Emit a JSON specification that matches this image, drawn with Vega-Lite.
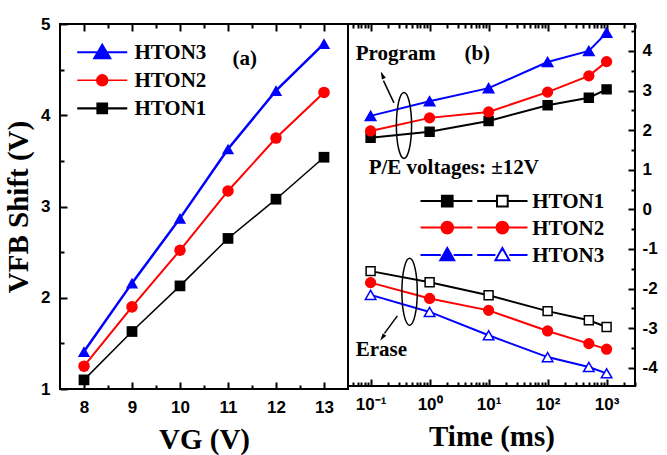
{
  "$schema": "https://vega.github.io/schema/vega-lite/v6.json",
  "padding": {"left": 3, "top": 14, "right": 0, "bottom": 0},
  "background": "white",
  "bounds": "flush",
  "spacing": 0,
  "config": {
    "view": {"stroke": "black", "strokeWidth": 2, "fill": "transparent"},
    "axis": {"domain": false, "grid": false, "ticks": true, "tickOpacity": 1, "zindex": 1, "labelFont": "Liberation Sans", "labelFontWeight": "bold", "labelFontSize": 17, "labelColor": "black", "tickColor": "#000000", "tickWidth": 2, "titleFont": "Liberation Serif", "titleFontWeight": "bold", "titleFontSize": 29, "titleColor": "black", "labelOverlap": false, "labelBound": false, "labelFlush": false},
    "text": {"font": "Liberation Serif", "fontWeight": "bold", "fontSize": 21}
  },
  "datasets": {
    "one": [{}],
    "left": [
      {"sample": "HTON3", "vg": 8, "shift": 1.41}, {"sample": "HTON3", "vg": 9, "shift": 2.16}, {"sample": "HTON3", "vg": 10, "shift": 2.87}, {"sample": "HTON3", "vg": 11, "shift": 3.63}, {"sample": "HTON3", "vg": 12, "shift": 4.27}, {"sample": "HTON3", "vg": 13, "shift": 4.785},
      {"sample": "HTON2", "vg": 8, "shift": 1.25}, {"sample": "HTON2", "vg": 9, "shift": 1.90}, {"sample": "HTON2", "vg": 10, "shift": 2.52}, {"sample": "HTON2", "vg": 11, "shift": 3.17}, {"sample": "HTON2", "vg": 12, "shift": 3.75}, {"sample": "HTON2", "vg": 13, "shift": 4.25},
      {"sample": "HTON1", "vg": 8, "shift": 1.10}, {"sample": "HTON1", "vg": 9, "shift": 1.63}, {"sample": "HTON1", "vg": 10, "shift": 2.13}, {"sample": "HTON1", "vg": 11, "shift": 2.65}, {"sample": "HTON1", "vg": 12, "shift": 3.08}, {"sample": "HTON1", "vg": 13, "shift": 3.54}
    ],
    "right": [
      {"sample": "HTON1", "phase": "Program", "t": 0.1, "v": 1.81}, {"sample": "HTON1", "phase": "Program", "t": 1, "v": 1.96}, {"sample": "HTON1", "phase": "Program", "t": 10, "v": 2.23}, {"sample": "HTON1", "phase": "Program", "t": 100, "v": 2.63}, {"sample": "HTON1", "phase": "Program", "t": 500, "v": 2.82}, {"sample": "HTON1", "phase": "Program", "t": 1000, "v": 3.03},
      {"sample": "HTON2", "phase": "Program", "t": 0.1, "v": 1.98}, {"sample": "HTON2", "phase": "Program", "t": 1, "v": 2.31}, {"sample": "HTON2", "phase": "Program", "t": 10, "v": 2.46}, {"sample": "HTON2", "phase": "Program", "t": 100, "v": 2.96}, {"sample": "HTON2", "phase": "Program", "t": 500, "v": 3.37}, {"sample": "HTON2", "phase": "Program", "t": 1000, "v": 3.73},
      {"sample": "HTON3", "phase": "Program", "t": 0.1, "v": 2.36}, {"sample": "HTON3", "phase": "Program", "t": 1, "v": 2.73}, {"sample": "HTON3", "phase": "Program", "t": 10, "v": 3.06}, {"sample": "HTON3", "phase": "Program", "t": 100, "v": 3.72}, {"sample": "HTON3", "phase": "Program", "t": 500, "v": 4.00}, {"sample": "HTON3", "phase": "Program", "t": 1000, "v": 4.46},
      {"sample": "HTON1", "phase": "Erase", "t": 0.1, "v": -1.56}, {"sample": "HTON1", "phase": "Erase", "t": 1, "v": -1.84}, {"sample": "HTON1", "phase": "Erase", "t": 10, "v": -2.17}, {"sample": "HTON1", "phase": "Erase", "t": 100, "v": -2.57}, {"sample": "HTON1", "phase": "Erase", "t": 500, "v": -2.80}, {"sample": "HTON1", "phase": "Erase", "t": 1000, "v": -2.97},
      {"sample": "HTON2", "phase": "Erase", "t": 0.1, "v": -1.85}, {"sample": "HTON2", "phase": "Erase", "t": 1, "v": -2.25}, {"sample": "HTON2", "phase": "Erase", "t": 10, "v": -2.55}, {"sample": "HTON2", "phase": "Erase", "t": 100, "v": -3.07}, {"sample": "HTON2", "phase": "Erase", "t": 500, "v": -3.39}, {"sample": "HTON2", "phase": "Erase", "t": 1000, "v": -3.53},
      {"sample": "HTON3", "phase": "Erase", "t": 0.1, "v": -2.16}, {"sample": "HTON3", "phase": "Erase", "t": 1, "v": -2.59}, {"sample": "HTON3", "phase": "Erase", "t": 10, "v": -3.18}, {"sample": "HTON3", "phase": "Erase", "t": 100, "v": -3.73}, {"sample": "HTON3", "phase": "Erase", "t": 500, "v": -3.98}, {"sample": "HTON3", "phase": "Erase", "t": 1000, "v": -4.14}
    ]
  },
  "resolve": {"scale": {"x": "independent", "y": "independent", "color": "independent", "shape": "independent", "size": "independent", "strokeWidth": "independent", "fill": "independent", "stroke": "independent"}},
  "hconcat": [
    {
      "width": 288, "height": 365,
      "resolve": {"axis": {"x": "independent", "y": "independent"}},
      "layer": [
        {
          "data": {"name": "left"},
          "mark": {"type": "line"},
          "encoding": {
            "x": {"field": "vg", "type": "quantitative", "scale": {"domain": [7.5, 13.5], "nice": false, "zero": false},
              "axis": {"orient": "bottom", "values": [8, 9, 10, 11, 12, 13], "labelExpr": "'' + datum.value", "offset": -7, "tickSize": 7, "labelPadding": 10, "title": "VG (V)", "titlePadding": 10}},
            "y": {"field": "shift", "type": "quantitative", "scale": {"domain": [1, 5], "nice": false, "zero": false},
              "axis": {"orient": "left", "values": [1, 2, 3, 4, 5], "labelExpr": "'' + datum.value", "offset": -7, "tickSize": 7, "labelPadding": 10, "title": "VFB Shift (V)", "titlePadding": 7}},
            "color": {"field": "sample", "type": "nominal", "scale": {"domain": ["HTON3", "HTON2", "HTON1"], "range": ["#0000ff", "#ff0000", "#000000"]}, "legend": null},
            "strokeWidth": {"field": "sample", "type": "nominal", "scale": {"domain": ["HTON3", "HTON2", "HTON1"], "range": [2.5, 1.5, 2.2]}, "legend": null}
          }
        },
        {
          "data": {"name": "left"},
          "mark": {"type": "point", "filled": true, "opacity": 1},
          "encoding": {
            "x": {"field": "vg", "type": "quantitative", "axis": {"orient": "top", "values": [8, 9, 10, 11, 12, 13], "labels": false, "offset": -7, "tickSize": 7, "title": null}},
            "y": {"field": "shift", "type": "quantitative", "axis": {"orient": "left", "values": [1.5, 2.5, 3.5, 4.5], "labels": false, "offset": -4, "tickSize": 4, "title": null}},
            "color": {"field": "sample", "type": "nominal", "legend": null},
            "shape": {"field": "sample", "type": "nominal", "scale": {"domain": ["HTON3", "HTON2", "HTON1"], "range": ["triangle-up", "circle", "square"]}, "legend": null},
            "size": {"field": "sample", "type": "nominal", "scale": {"domain": ["HTON3", "HTON2", "HTON1"], "range": [150, 115, 90]}, "legend": null}
          }
        },
        {
          "data": {"name": "one"},
          "mark": {"type": "point", "filled": true, "opacity": 1, "strokeWidth": 2, "size": 2500, "color": "#0000ff", "stroke": "#0000ff", "shape": "M-1,0H1M0,-0.3L0.32,0.24L-0.32,0.24Z"},
          "encoding": {
            "x": {"datum": 8.38, "type": "quantitative", "axis": {"orient": "bottom", "values": [8.5, 9.5, 10.5, 11.5, 12.5], "labels": false, "offset": -4, "tickSize": 4, "title": null}},
            "y": {"datum": 4.69, "type": "quantitative", "axis": null}
          }
        },
        {
          "data": {"name": "one"},
          "mark": {"type": "point", "filled": true, "opacity": 1, "strokeWidth": 1.5, "size": 2500, "color": "#ff0000", "stroke": "#ff0000", "shape": "M-1,0H1M-0.22,0A0.22,0.22 0 1,0 0.22,0A0.22,0.22 0 1,0 -0.22,0Z"},
          "encoding": {
            "x": {"datum": 8.38, "type": "quantitative", "axis": {"orient": "top", "values": [8.5, 9.5, 10.5, 11.5, 12.5], "labels": false, "offset": -4, "tickSize": 4, "title": null}},
            "y": {"datum": 4.383, "type": "quantitative", "axis": null}
          }
        },
        {
          "data": {"name": "one"},
          "mark": {"type": "point", "filled": true, "opacity": 1, "strokeWidth": 2.2, "size": 2500, "color": "#000000", "stroke": "#000000", "shape": "M-1,0H1M-0.19,-0.19H0.19V0.19H-0.19Z"},
          "encoding": {"x": {"datum": 8.38, "type": "quantitative", "axis": null}, "y": {"datum": 4.076, "type": "quantitative", "axis": null}}
        },
        {
          "data": {"name": "one"},
          "mark": {"type": "text", "align": "left", "baseline": "middle", "dy": 1},
          "encoding": {"x": {"datum": 9.05, "type": "quantitative", "axis": null}, "y": {"datum": 4.69, "type": "quantitative", "axis": null}, "text": {"value": "HTON3"}}
        },
        {
          "data": {"name": "one"},
          "mark": {"type": "text", "align": "left", "baseline": "middle", "dy": 1},
          "encoding": {"x": {"datum": 9.05, "type": "quantitative", "axis": null}, "y": {"datum": 4.383, "type": "quantitative", "axis": null}, "text": {"value": "HTON2"}}
        },
        {
          "data": {"name": "one"},
          "mark": {"type": "text", "align": "left", "baseline": "middle", "dy": 1},
          "encoding": {"x": {"datum": 9.05, "type": "quantitative", "axis": null}, "y": {"datum": 4.076, "type": "quantitative", "axis": null}, "text": {"value": "HTON1"}}
        },
        {
          "data": {"name": "one"},
          "mark": {"type": "text"},
          "encoding": {"x": {"datum": 11.35, "type": "quantitative", "axis": null}, "y": {"datum": 4.62, "type": "quantitative", "axis": null}, "text": {"value": "(a)"}}
        }
      ]
    },
    {
      "width": 287, "height": 362,
      "resolve": {"axis": {"x": "independent", "y": "independent"}},
      "layer": [
        {
          "data": {"name": "right"},
          "mark": {"type": "line", "strokeWidth": 2},
          "encoding": {
            "x": {"field": "t", "type": "quantitative", "scale": {"type": "log", "domain": [0.0414, 3030], "nice": false},
              "axis": {"orient": "bottom", "values": [0.1, 1, 10, 100, 1000],
                "labelExpr": "datum.value === 0.1 ? '10⁻¹' : datum.value === 1 ? '10⁰' : datum.value === 10 ? '10¹' : datum.value === 100 ? '10²' : '10³'",
                "offset": -7, "tickSize": 7, "labelPadding": 10, "title": "Time (ms)", "titlePadding": 10}},
            "y": {"field": "v", "type": "quantitative", "scale": {"domain": [-4.46, 4.68], "nice": false, "zero": false},
              "axis": {"orient": "right", "values": [-4, -3, -2, -1, 0, 1, 2, 3, 4],
                "labelExpr": "datum.value < 0 ? '-' + abs(datum.value) : '' + datum.value",
                "offset": -7, "tickSize": 7, "labelPadding": 7, "title": null}},
            "color": {"field": "sample", "type": "nominal", "scale": {"domain": ["HTON1", "HTON2", "HTON3"], "range": ["#000000", "#ff0000", "#0000ff"]}, "legend": null},
            "detail": {"field": "phase", "type": "nominal"}
          }
        },
        {
          "data": {"name": "right"},
          "mark": {"type": "point", "filled": true, "opacity": 1, "strokeWidth": 1.5},
          "encoding": {
            "x": {"field": "t", "type": "quantitative", "axis": {"orient": "top", "values": [0.1, 1, 10, 100, 1000], "labels": false, "offset": -7, "tickSize": 7, "title": null}},
            "y": {"field": "v", "type": "quantitative", "axis": {"orient": "right", "values": [-4.5, -3.5, -2.5, -1.5, -0.5, 0.5, 1.5, 2.5, 3.5, 4.5], "labels": false, "offset": -4, "tickSize": 4, "title": null}},
            "stroke": {"field": "sample", "type": "nominal", "scale": {"domain": ["HTON1", "HTON2", "HTON3"], "range": ["#000000", "#ff0000", "#0000ff"]}, "legend": null},
            "fill": {"condition": {"test": "datum.phase === 'Erase' && datum.sample !== 'HTON2'", "value": "white"}, "field": "sample", "type": "nominal", "scale": {"domain": ["HTON1", "HTON2", "HTON3"], "range": ["#000000", "#ff0000", "#0000ff"]}, "legend": null},
            "shape": {"field": "sample", "type": "nominal", "scale": {"domain": ["HTON1", "HTON2", "HTON3"], "range": ["square", "circle", "triangle-up"]}, "legend": null},
            "size": {"field": "sample", "type": "nominal", "scale": {"domain": ["HTON1", "HTON2", "HTON3"], "range": [80, 110, 135]}, "legend": null}
          }
        },
        {
          "data": {"name": "one"},
          "mark": {"type": "point", "filled": true, "opacity": 1, "strokeWidth": 2, "size": 11449, "color": "#000000", "stroke": "#000000", "shape": "M-1,0H-0.6M-0.4,0H-0.03M0.06,0H0.43M0.63,0H1M-0.6,-0.1H-0.4V0.1H-0.6ZM0.43,-0.1H0.63V0.1H0.43ZM0.43,-0.1V0.1H0.63V-0.1Z"},
          "encoding": {"x": {"datum": 5.66, "type": "quantitative", "axis": null}, "y": {"datum": 0.21, "type": "quantitative", "axis": null}}
        },
        {
          "data": {"name": "one"},
          "mark": {"type": "point", "filled": true, "opacity": 1, "strokeWidth": 2, "size": 11449, "color": "#ff0000", "stroke": "#ff0000", "shape": "M-1,0H-0.03M0.06,0H1M-0.61,0A0.11,0.11 0 1,0 -0.39,0A0.11,0.11 0 1,0 -0.61,0ZM0.42,0A0.11,0.11 0 1,0 0.64,0A0.11,0.11 0 1,0 0.42,0Z"},
          "encoding": {"x": {"datum": 5.66, "type": "quantitative", "axis": null}, "y": {"datum": -0.46, "type": "quantitative", "axis": null}}
        },
        {
          "data": {"name": "one"},
          "mark": {"type": "point", "filled": true, "opacity": 1, "strokeWidth": 2, "size": 11449, "color": "#0000ff", "stroke": "#0000ff", "shape": "M-1,0H-0.62M-0.38,0H-0.03M0.06,0H0.4M0.66,0H1M-0.5,-0.13L-0.37,0.1L-0.63,0.1ZM0.53,-0.13L0.66,0.1L0.4,0.1ZM0.53,-0.13L0.4,0.1L0.66,0.1Z"},
          "encoding": {"x": {"datum": 5.66, "type": "quantitative", "axis": null}, "y": {"datum": -1.15, "type": "quantitative", "axis": null}}
        },
        {
          "data": {"name": "one"},
          "mark": {"type": "text", "align": "left", "baseline": "middle", "dy": 1},
          "encoding": {"x": {"datum": 55, "type": "quantitative", "axis": null}, "y": {"datum": 0.21, "type": "quantitative", "axis": null}, "text": {"value": "HTON1"}}
        },
        {
          "data": {"name": "one"},
          "mark": {"type": "text", "align": "left", "baseline": "middle", "dy": 1},
          "encoding": {"x": {"datum": 55, "type": "quantitative", "axis": null}, "y": {"datum": -0.46, "type": "quantitative", "axis": null}, "text": {"value": "HTON2"}}
        },
        {
          "data": {"name": "one"},
          "mark": {"type": "text", "align": "left", "baseline": "middle", "dy": 1},
          "encoding": {"x": {"datum": 55, "type": "quantitative", "axis": null}, "y": {"datum": -1.15, "type": "quantitative", "axis": null}, "text": {"value": "HTON3"}}
        },
        {
          "data": {"name": "one"},
          "mark": {"type": "point", "filled": false, "stroke": "black", "strokeWidth": 1.5, "opacity": 1, "shape": "M0,-1A0.23,1 0 1,1 0,1A0.23,1 0 1,1 0,-1Z", "size": 4356},
          "encoding": {"x": {"datum": 0.368, "type": "quantitative", "axis": {"orient": "top", "values": [0.05, 0.06, 0.07, 0.08, 0.09, 0.2, 0.3, 0.4, 0.5, 0.6, 0.7, 0.8, 0.9, 2, 3, 4, 5, 6, 7, 8, 9, 20, 30, 40, 50, 60, 70, 80, 90, 200, 300, 400, 500, 600, 700, 800, 900, 2000, 3000], "labels": false, "offset": -4, "tickSize": 4, "title": null}}, "y": {"datum": 2.12, "type": "quantitative", "axis": null}}
        },
        {
          "data": {"name": "one"},
          "mark": {"type": "point", "filled": false, "stroke": "black", "strokeWidth": 1.5, "opacity": 1, "shape": "M0,-1A0.23,1 0 1,1 0,1A0.23,1 0 1,1 0,-1Z", "size": 4489},
          "encoding": {"x": {"datum": 0.458, "type": "quantitative", "axis": {"orient": "bottom", "values": [0.05, 0.06, 0.07, 0.08, 0.09, 0.2, 0.3, 0.4, 0.5, 0.6, 0.7, 0.8, 0.9, 2, 3, 4, 5, 6, 7, 8, 9, 20, 30, 40, 50, 60, 70, 80, 90, 200, 300, 400, 500, 600, 700, 800, 900, 2000, 3000], "labels": false, "offset": -4, "tickSize": 4, "title": null}}, "y": {"datum": -2.08, "type": "quantitative", "axis": null}}
        },
        {
          "data": {"name": "one"},
          "mark": {"type": "rule", "color": "black", "strokeWidth": 1.5},
          "encoding": {"x": {"datum": 0.249, "type": "quantitative", "axis": null}, "y": {"datum": 2.69, "type": "quantitative", "axis": null}, "x2": {"datum": 0.165}, "y2": {"datum": 3.25}}
        },
        {
          "data": {"name": "one"},
          "mark": {"type": "point", "filled": true, "color": "black", "opacity": 1, "shape": "M0,-1L0.55,1L-0.55,1Z", "size": 60, "angle": 337},
          "encoding": {"x": {"datum": 0.158, "type": "quantitative", "axis": null}, "y": {"datum": 3.39, "type": "quantitative", "axis": null}}
        },
        {
          "data": {"name": "one"},
          "mark": {"type": "rule", "color": "black", "strokeWidth": 1.5},
          "encoding": {"x": {"datum": 0.284, "type": "quantitative", "axis": null}, "y": {"datum": -2.69, "type": "quantitative", "axis": null}, "x2": {"datum": 0.172}, "y2": {"datum": -3.13}}
        },
        {
          "data": {"name": "one"},
          "mark": {"type": "point", "filled": true, "color": "black", "opacity": 1, "shape": "M0,-1L0.55,1L-0.55,1Z", "size": 60, "angle": 215},
          "encoding": {"x": {"datum": 0.158, "type": "quantitative", "axis": null}, "y": {"datum": -3.24, "type": "quantitative", "axis": null}}
        },
        {
          "data": {"name": "one"},
          "mark": {"type": "text"},
          "encoding": {"x": {"datum": 0.267, "type": "quantitative", "axis": null}, "y": {"datum": 3.91, "type": "quantitative", "axis": null}, "text": {"value": "Program"}}
        },
        {
          "data": {"name": "one"},
          "mark": {"type": "text"},
          "encoding": {"x": {"datum": 6.43, "type": "quantitative", "axis": null}, "y": {"datum": 3.91, "type": "quantitative", "axis": null}, "text": {"value": "(b)"}}
        },
        {
          "data": {"name": "one"},
          "mark": {"type": "text"},
          "encoding": {"x": {"datum": 2.57, "type": "quantitative", "axis": null}, "y": {"datum": 1.05, "type": "quantitative", "axis": null}, "text": {"value": "P/E voltages: ±12V"}}
        },
        {
          "data": {"name": "one"},
          "mark": {"type": "text"},
          "encoding": {"x": {"datum": 0.152, "type": "quantitative", "axis": null}, "y": {"datum": -3.54, "type": "quantitative", "axis": null}, "text": {"value": "Erase"}}
        }
      ]
    }
  ]
}
